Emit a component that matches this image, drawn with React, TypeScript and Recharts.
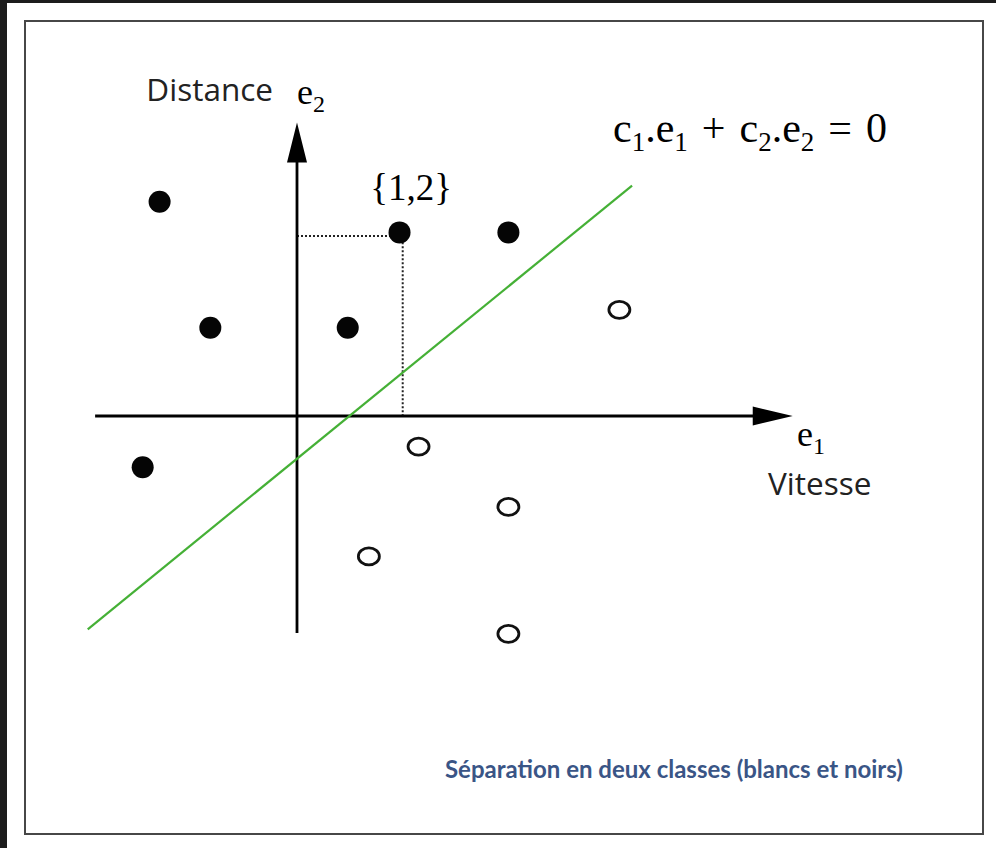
import React from 'react';
import { ScatterChart, Scatter, XAxis, YAxis, ReferenceLine, ReferenceArea, ReferenceDot } from 'recharts';

// black points (class "noirs")
const blackE1 = [-1.3, -0.82, 0.48, 0.97, 2.0, -1.46];
const blackE2 = [2.38, 0.98, 0.98, 2.04, 2.04, -0.57];
// white points (class "blancs")
const whiteE1 = [3.05, 1.15, 2.0, 0.68, 2.0];
const whiteE2 = [1.18, -0.34, -1.01, -1.56, -2.42];
// separating line c1.e1 + c2.e2 = 0
const sepE1 = [-1.98, 3.17];
const sepE2 = [-2.37, 2.56];
// axis extents (arrow tips at the end)
const e1Axis = [-1.91, 4.69];
const e2Axis = [-2.41, 3.26];
// the highlighted point {1,2}
const marked = { x: 1, y: 2 };

const blackPts = blackE1.map((x, i) => ({ x, y: blackE2[i] }));
const whitePts = whiteE1.map((x, i) => ({ x, y: whiteE2[i] }));

const SERIF = '"Liberation Serif", "DejaVu Serif", serif';
const SANS = '"Open Sans", "Noto Sans", sans-serif';

const FilledDot = (p: any) => <circle cx={p.cx} cy={p.cy} r={11} fill="#050505" />;
const OpenDot = (p: any) => (
    <ellipse cx={p.cx} cy={p.cy} rx={10.5} ry={8.5} fill="#fff" stroke="#111" strokeWidth={2.8} />
);

export default function App() {
    return (
        <div style={{ position: 'absolute', left: 0, top: 0, width: 996, height: 848, background: '#1c1c1c' }}>
            <div style={{ position: 'absolute', left: 7, top: 3, right: 0, bottom: 0, background: '#fff' }} />
            <div
                style={{
                    position: 'absolute', left: 24, top: 20, width: 960, height: 815,
                    boxSizing: 'border-box', border: '2.5px solid #474747'
                }}
            />
            <div style={{ position: 'absolute', left: 0, top: 0 }}>
                <ScatterChart width={996} height={848} margin={{ top: 11, right: 11.95, bottom: 27, left: 32.75 }}>
                    <XAxis type="number" dataKey="x" domain={[-2.5, 6.5]} allowDataOverflow hide />
                    <YAxis type="number" dataKey="y" domain={[-4.5, 4.5]} allowDataOverflow hide />

                    <ReferenceArea x1={0} x2={marked.x} y1={0} y2={marked.y} fill="none" fillOpacity={0}
                        stroke="#222" strokeWidth={2} strokeDasharray="2 2" />

                    {/* axes */}
                    <ReferenceLine segment={[{ x: e1Axis[0], y: 0 }, { x: e1Axis[1] - 0.1, y: 0 }]} stroke="#000" strokeWidth={2.8} />
                    <ReferenceLine segment={[{ x: 0, y: e2Axis[0] }, { x: 0, y: e2Axis[1] - 0.1 }]} stroke="#000" strokeWidth={2.8} />
                    <ReferenceDot x={e1Axis[1]} y={0} r={0}
                        shape={(p: any) => (
                            <polygon points={`${p.cx},${p.cy} ${p.cx - 40},${p.cy - 9.5} ${p.cx - 40},${p.cy + 9.5}`} fill="#000" />
                        )} />
                    <ReferenceDot x={0} y={e2Axis[1]} r={0}
                        shape={(p: any) => (
                            <polygon points={`${p.cx},${p.cy} ${p.cx - 10},${p.cy + 40} ${p.cx + 10},${p.cy + 40}`} fill="#000" />
                        )} />

                    <ReferenceLine segment={[{ x: sepE1[0], y: sepE2[0] }, { x: sepE1[1], y: sepE2[1] }]} stroke="#45b036" strokeWidth={2.2} />

                    <Scatter data={blackPts} shape={FilledDot} isAnimationActive={false} />
                    <Scatter data={whitePts} shape={OpenDot} isAnimationActive={false} />

                    {/* labels */}
                    <ReferenceDot x={-0.227} y={3.5} r={0} ifOverflow="visible"
                        shape={(p: any) => (
                            <text x={p.cx} y={p.cy} textAnchor="end" fontFamily={SANS} fontSize={31.5} fill="#222">Distance</text>
                        )} />
                    <ReferenceDot x={0} y={3.467} r={0} ifOverflow="visible"
                        shape={(p: any) => (
                            <text x={p.cx} y={p.cy} fontFamily={SERIF} fontSize={36} fill="#000">
                                e<tspan fontSize={24} dy={8}>2</tspan>
                            </text>
                        )} />
                    <ReferenceDot x={1.079} y={2.4} r={0} ifOverflow="visible"
                        shape={(p: any) => (
                            <text x={p.cx} y={p.cy} textAnchor="middle" fontFamily={SERIF} fontSize={37} fill="#000">{'{1,2}'}</text>
                        )} />
                    <ReferenceDot x={2.99} y={3.044} r={0} ifOverflow="visible"
                        shape={(p: any) => (
                            <text x={p.cx} y={p.cy} fontFamily={SERIF} fontSize={42} fill="#000">
                                c<tspan fontSize={27} dy={9}>1</tspan>
                                <tspan dy={-9}>.e</tspan><tspan fontSize={27} dy={9}>1</tspan>
                                <tspan dy={-9} dx={14}>+</tspan><tspan dx={14}>c</tspan>
                                <tspan fontSize={27} dy={9}>2</tspan>
                                <tspan dy={-9}>.e</tspan><tspan fontSize={27} dy={9}>2</tspan>
                                <tspan dy={-9} dx={14}>=</tspan><tspan dx={14}>0</tspan>
                            </text>
                        )} />
                    <ReferenceDot x={4.73} y={-0.333} r={0} ifOverflow="visible"
                        shape={(p: any) => (
                            <text x={p.cx} y={p.cy} fontFamily={SERIF} fontSize={36} fill="#000">
                                e<tspan fontSize={24} dy={8}>1</tspan>
                            </text>
                        )} />
                    <ReferenceDot x={4.456} y={-0.878} r={0} ifOverflow="visible"
                        shape={(p: any) => (
                            <text x={p.cx} y={p.cy} fontFamily={SANS} fontSize={31.5} fill="#222">Vitesse</text>
                        )} />
                    <ReferenceDot x={1.4} y={-4.02} r={0} ifOverflow="visible"
                        shape={(p: any) => (
                            <text x={p.cx} y={p.cy} fontFamily='Lato, "Open Sans", sans-serif' fontWeight="bold" fontSize={24} fill="#3a5586">
                                Séparation en deux classes (blancs et noirs)
                            </text>
                        )} />
                </ScatterChart>
            </div>
        </div>
    );
}
